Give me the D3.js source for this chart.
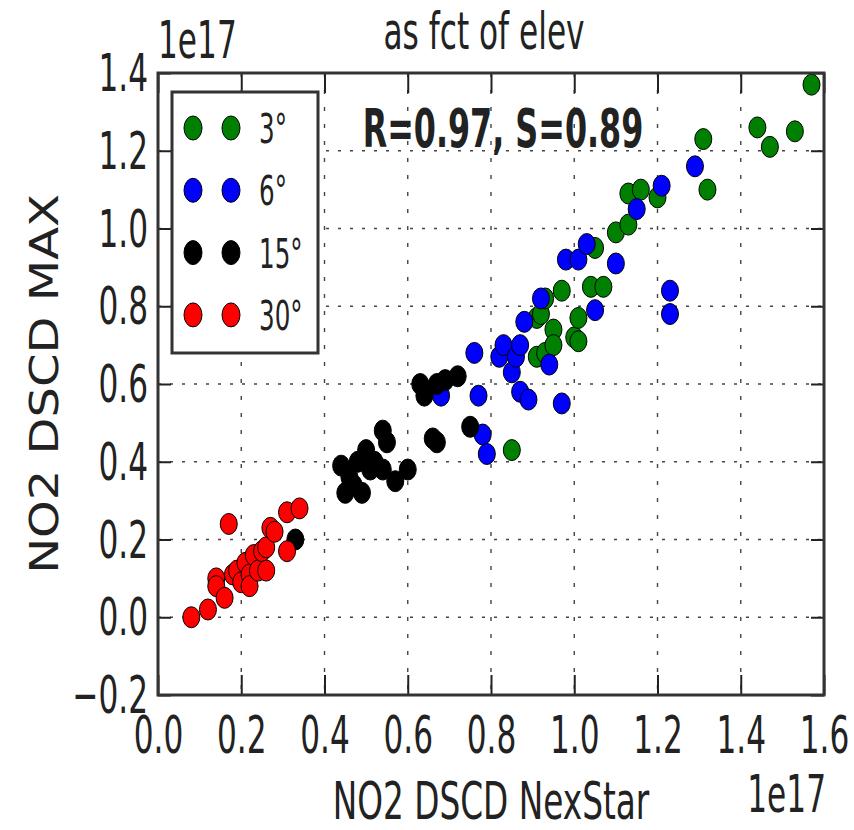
<!DOCTYPE html>
<head>
<meta charset="utf-8">
<style>
body { margin: 0; background: #fff; }
text { font-family: "DejaVu Sans", sans-serif; fill: #222; }
.grid line { stroke: #444; stroke-width: 1.4px; }
</style>
</head>
<body>
<script src="https://cdn.jsdelivr.net/npm/d3@7"></script>
<script>

// data, units of 1e17 molec/cm2 : [NexStar, MAX]
var green3 = [[0.85,0.43],[0.91,0.67],[0.93,0.68],[0.91,0.77],[0.92,0.78],[0.93,0.82],[0.97,0.84],
  [0.95,0.74],[0.95,0.70],[1.00,0.72],[1.01,0.77],[1.01,0.71],[1.04,0.85],[1.07,0.85],[1.05,0.95],
  [1.10,0.99],[1.13,1.01],[1.13,1.09],[1.16,1.10],[1.20,1.08],[1.31,1.23],[1.32,1.10],
  [1.44,1.26],[1.47,1.21],[1.53,1.25],[1.57,1.37]];
var blue6 = [[0.68,0.57],[0.76,0.68],[0.77,0.57],[0.78,0.47],[0.79,0.42],[0.82,0.67],[0.83,0.70],
  [0.85,0.63],[0.86,0.67],[0.87,0.70],[0.88,0.76],[0.87,0.58],[0.89,0.56],[0.92,0.82],[0.94,0.65],
  [0.97,0.55],[0.98,0.92],[1.01,0.92],[1.03,0.96],[1.10,0.91],[1.05,0.79],[1.15,1.05],[1.21,1.11],
  [1.23,0.84],[1.23,0.78],[1.29,1.16]];
var black15 = [[0.33,0.20],[0.44,0.39],[0.45,0.32],[0.46,0.36],[0.47,0.34],[0.49,0.32],[0.48,0.40],
  [0.50,0.43],[0.51,0.38],[0.52,0.40],[0.54,0.48],[0.54,0.38],[0.55,0.45],[0.57,0.35],[0.60,0.38],
  [0.63,0.60],[0.64,0.57],[0.67,0.60],[0.69,0.61],[0.72,0.62],[0.66,0.46],[0.67,0.45],[0.75,0.49]];
var red30 = [[0.08,0.00],[0.12,0.02],[0.14,0.10],[0.14,0.08],[0.16,0.05],[0.17,0.24],[0.18,0.11],
  [0.19,0.12],[0.20,0.09],[0.21,0.14],[0.22,0.11],[0.22,0.08],[0.23,0.16],[0.24,0.12],[0.25,0.17],
  [0.26,0.12],[0.26,0.18],[0.27,0.23],[0.28,0.22],[0.31,0.17],[0.31,0.27],[0.34,0.28]];

var seriesNames = ["3\u00b0", "6\u00b0", "15\u00b0", "30\u00b0"];
var seriesColors = ["green", "blue", "black", "red"];
var seriesData = [green3, blue6, black15, red30];

var xTicks = [0.0, 0.2, 0.4, 0.6, 0.8, 1.0, 1.2, 1.4, 1.6];
var yTicks = [-0.2, 0.0, 0.2, 0.4, 0.6, 0.8, 1.0, 1.2, 1.4];

var width = 854, height = 830;
var pLeft = 158, pRight = 824, pTop = 73, pBottom = 695;

var svg = d3.select("body").append("svg")
    .attr("width", width)
    .attr("height", height);

var x = d3.scaleLinear().domain([0, 1.6]).range([pLeft, pRight]);
var y = d3.scaleLinear().domain([-0.2, 1.4]).range([pBottom, pTop]);

// squeezed text, like the stretched original
function label(str, px, py, size, sx, anchor, weight) {
  return svg.append("text")
      .attr("transform", "translate(" + px + "," + py + ") scale(" + sx + ",1)")
      .attr("text-anchor", anchor || "start")
      .style("font-size", size + "px")
      .style("font-weight", weight || "normal")
      .text(str);
}

// grid
var grid = svg.append("g").attr("class", "grid");
grid.selectAll(".gx").data(xTicks).enter().append("line")
    .attr("x1", d => x(d)).attr("x2", d => x(d))
    .attr("y1", pTop).attr("y2", pBottom)
    .style("stroke-dasharray", "4,13");
grid.selectAll(".gy").data(yTicks).enter().append("line")
    .attr("x1", pLeft).attr("x2", pRight)
    .attr("y1", d => y(d)).attr("y2", d => y(d))
    .style("stroke-dasharray", "3,9");

// axes (ticks pointing inwards)
var fmt = d3.format(".1f");
var gx = svg.append("g").attr("transform", "translate(0," + pBottom + ")")
    .call(d3.axisBottom(x).tickValues(xTicks).tickSizeInner(-20).tickSizeOuter(0).tickFormat(fmt));
gx.selectAll("text")
    .attr("y", 58).attr("dy", null)
    .attr("transform", "scale(0.6,1)")
    .style("font-size", "52px");

var gy = svg.append("g").attr("transform", "translate(" + pLeft + ",0)")
    .call(d3.axisLeft(y).tickValues(yTicks).tickSizeInner(-13).tickSizeOuter(0).tickFormat(fmt));
gy.selectAll("text")
    .attr("x", -10 / 0.6).attr("dy", "0.34em")
    .attr("transform", "scale(0.6,1)")
    .style("font-size", "52px");

svg.append("g").attr("transform", "translate(0," + pTop + ")")
    .call(d3.axisTop(x).tickValues(xTicks).tickSizeInner(-20).tickSizeOuter(0).tickFormat(""));
svg.append("g").attr("transform", "translate(" + pRight + ",0)")
    .call(d3.axisRight(y).tickValues(yTicks).tickSizeInner(-13).tickSizeOuter(0).tickFormat(""));

svg.selectAll(".domain").remove();
svg.selectAll(".tick line").attr("stroke", "#222").attr("stroke-width", 2);
svg.selectAll(".tick text").attr("fill", "#222").style("font-family", '"DejaVu Sans", sans-serif');

// points: green first, red on top
seriesData.forEach(function(data, i) {
  svg.append("g").selectAll("ellipse")
      .data(data)
      .enter().append("ellipse")
      .attr("cx", d => x(d[0]))
      .attr("cy", d => y(d[1]))
      .attr("rx", 8.5)
      .attr("ry", 10.5)
      .style("fill", seriesColors[i])
      .style("stroke", "#000")
      .style("stroke-width", 1);
});

// frame
svg.append("rect")
    .attr("x", pLeft).attr("y", pTop)
    .attr("width", pRight - pLeft).attr("height", pBottom - pTop)
    .style("fill", "none").style("stroke", "#333").style("stroke-width", 3);

// legend
var leg = svg.append("g");
leg.append("rect")
    .attr("x", 172).attr("y", 92).attr("width", 146).attr("height", 261)
    .style("fill", "#fff").style("stroke", "#333").style("stroke-width", 3);
seriesNames.forEach(function(name, i) {
  var ry = 128 + i * 62.3;
  [193, 231].forEach(function(cx) {
    leg.append("ellipse")
        .attr("cx", cx).attr("cy", ry).attr("rx", 9).attr("ry", 12)
        .style("fill", seriesColors[i]).style("stroke", "#000").style("stroke-width", 1);
  });
  label(name, 259, ry + 15, 41, 0.6);
});

// texts
label("as fct of elev", 484, 49, 52, 0.6, "middle");
label("1e17", 158, 58, 52, 0.6);
label("R=0.97, S=0.89", 503, 147, 53, 0.6, "middle", "bold");
label("NO2 DSCD NexStar", 491, 819, 52, 0.63, "middle");
label("1e17", 826, 812, 52, 0.6, "end");

// y label, thinner glyphs across the axis
svg.append("text")
    .attr("transform", "translate(58," + ((pTop + pBottom) / 2) + ") rotate(-90) scale(1,0.8)")
    .attr("text-anchor", "middle")
    .style("font-size", "48px")
    .text("NO2 DSCD MAX");

</script>
</body>
</html>
